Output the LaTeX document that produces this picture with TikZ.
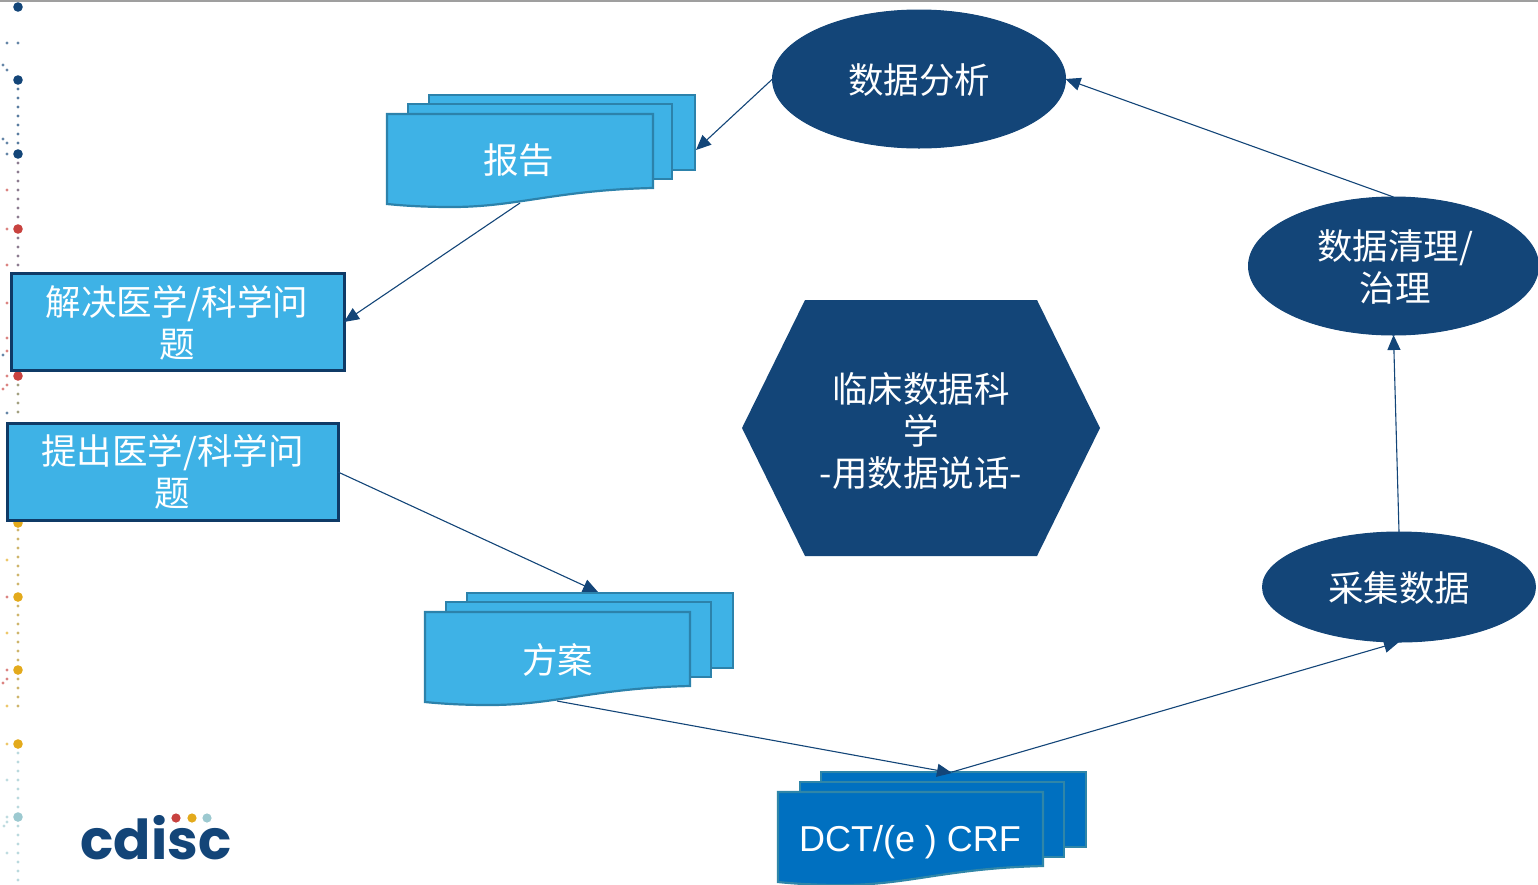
\documentclass[tikz,border=0pt]{standalone}
\usepackage{fontspec}
\setmainfont{Liberation Sans}
\newfontfamily\cjk{Noto Sans CJK SC}
\newfontfamily\logofont[Scale=1]{Poppins}
\usetikzlibrary{arrows.meta,shapes.geometric}
\definecolor{navy}{HTML}{134578}
\definecolor{sky}{HTML}{3EB2E6}
\definecolor{skyline}{HTML}{2C82AB}
\definecolor{deep}{HTML}{0070C0}
\definecolor{deepline}{HTML}{2F86A8}
\definecolor{boxline}{HTML}{0F3A66}
\definecolor{dotred}{HTML}{C8423F}
\definecolor{dotyellow}{HTML}{E3AA1C}
\definecolor{dotteal}{HTML}{9CC9D0}
\tikzset{
  zh/.style={font=\fontsize{35.5}{42}\selectfont\cjk,text=white,align=center,inner sep=0pt},
  oval/.style={ellipse,fill=navy,draw=navy,line width=1pt,inner sep=0pt,outer sep=0pt,text depth=0pt},
  qbox/.style={rectangle,fill=sky,draw=boxline,line width=3pt,inner sep=0pt,outer sep=0pt},
  link/.style={draw=navy,line width=1.1pt,-{Triangle[length=15pt,width=13pt]}},
  sheet/.style={line width=2.2pt,line join=miter},
}
\newcommand{\wavesheet}[5]{% x y width fill line
  \begin{scope}[shift={(#1,#2)}]
  \path[sheet,fill=#4,draw=#5] (0,0) -- (#3,0) -- (#3,74)
    .. controls (170,76) and (130,93) .. (65,93)
    .. controls (40,93) and (20,92) .. (0,90) -- cycle;
  \end{scope}
}
\newcommand{\backsheet}[5]{%
  \path[sheet,fill=#4,draw=#5] (#1,#2) rectangle ++(#3,75);
}
\begin{document}
\begin{tikzpicture}[x=1pt,y=-1pt]
\useasboundingbox (0,0) rectangle (1538,884);
\fill[gray!75] (0,0) rectangle (1538,1.5);
% dotted decoration on the left edge
\foreach \a/\b/\c in {89/146/navy,163/222/navy!60!dotred,238/296/navy!60!dotred,305/368/navy!50!dotred,385/420/navy!50!dotyellow,530/590/dotyellow!80!navy,606/663/dotyellow!80!navy,679/708/dotyellow!80!navy,753/810/dotteal,826/880/dotteal}{
  \pgfmathtruncatemacro{\s}{\a+9}
  \foreach \y in {\a,\s,...,\b}{\fill[\c,opacity=.7] (18,\y) circle (1.6);}
}
\foreach \y/\c in {43/navy,190/dotred,265/dotred,303/dotred,338/dotred,376/dotred,413/navy,560/dotyellow,597/dotred,633/dotyellow,670/dotred,706/dotyellow,744/dotyellow,780/dotteal,817/dotteal,853/dotteal,154/navy,229/dotred}{
  \fill[\c,opacity=.65] (7,\y) circle (1.6);
}
\foreach \x/\y/\c in {18/43/navy,3/65/navy,7/70/navy,3/139/navy,7/143/navy,3/355/navy,7/351/dotred,3/389/dotred,7/385/dotred,3/683/dotred,7/679/dotred,4/826/dotteal,7/822/dotteal}{
  \fill[\c,opacity=.65] (\x,\y) circle (1.6);
}
\foreach \y/\c in {7/navy,80/navy,154/navy,229/dotred,376/dotred,523/dotyellow,597/dotyellow,670/dotyellow,744/dotyellow,817/dotteal}{
  \fill[\c] (18,\y) circle (4.8);
}
% logo
\node[font=\fontsize{55}{55}\selectfont\logofont\bfseries,text=navy,inner sep=0pt,anchor=base] (logo) at (156,859) {cdisc};
\fill[dotred] (176,818) circle (4.6);
\fill[dotyellow] (192,818) circle (4.6);
\fill[dotteal] (207,818) circle (4.6);
% document stacks
\backsheet{429}{95}{266}{sky}{skyline}
\backsheet{408}{104}{264}{sky}{skyline}
\wavesheet{387}{114}{266}{sky}{skyline}
\node[zh] (report) at (518.5,160) {报告};
\backsheet{467}{593}{266}{sky}{skyline}
\backsheet{446}{602}{265}{sky}{skyline}
\wavesheet{425}{612}{265}{sky}{skyline}
\node[zh] (plan) at (557.5,659.5) {方案};
\backsheet{821}{772}{265}{deep}{deepline}
\backsheet{800}{782}{264}{deep}{deepline}
\wavesheet{778}{792}{265}{deep}{deepline}
\node[font=\fontsize{36}{42}\selectfont,text=white,inner sep=0pt] (crf) at (910,842) {DCT/(e ) CRF};
% question boxes
\node[qbox,minimum width=333pt,minimum height=97pt] (solve) at (177.5,322) {};
\node[zh] (solvetext) at (177,322.5) {解决医学/科学问\\题};
\node[qbox,minimum width=331pt,minimum height=97pt] (ask) at (172.5,472) {};
\node[zh] (asktext) at (172.5,471.5) {提出医学/科学问\\题};
% ovals
\node[oval,minimum width=293pt,minimum height=138pt] (analysis) at (919,79) {};
\node[zh] (analysistext) at (919,80.5) {数据分析};
\node[oval,minimum width=290pt,minimum height=138pt] (clean) at (1393.5,266) {};
\node[zh] (cleantext) at (1395,267.5) {数据清理/\\治理};
\node[oval,minimum width=273pt,minimum height=110pt] (collect) at (1399,587) {};
\node[zh] (collecttext) at (1399,588) {采集数据};
% hexagon
\fill[navy] (742,428) -- (805,300) -- (1037,300) -- (1100,428) -- (1037,556) -- (805,556) -- cycle;
\node[zh] (core) at (921,431) {临床数据科\\学\\-用数据说话-};
% connector ends on the sheets
\coordinate (reportIn) at (696,150);
\coordinate (reportOut) at (520,203);
\coordinate (planIn) at (598,592);
\coordinate (planOut) at (557,701);
\coordinate (crfIn) at (952,773);
\coordinate (crfOut) at (952,772);
% connectors
\draw[link] (ask.east) -- (planIn);
\draw[link] (planOut) -- (crfIn);
\draw[link] (crfOut) -- (collect.south);
\draw[link] (collect.north) -- (clean.south);
\draw[link] (clean.north) -- (analysis.east);
\draw[link] (analysis.west) -- (reportIn);
\draw[link] (reportOut) -- (solve.east);
\end{tikzpicture}
\end{document}
